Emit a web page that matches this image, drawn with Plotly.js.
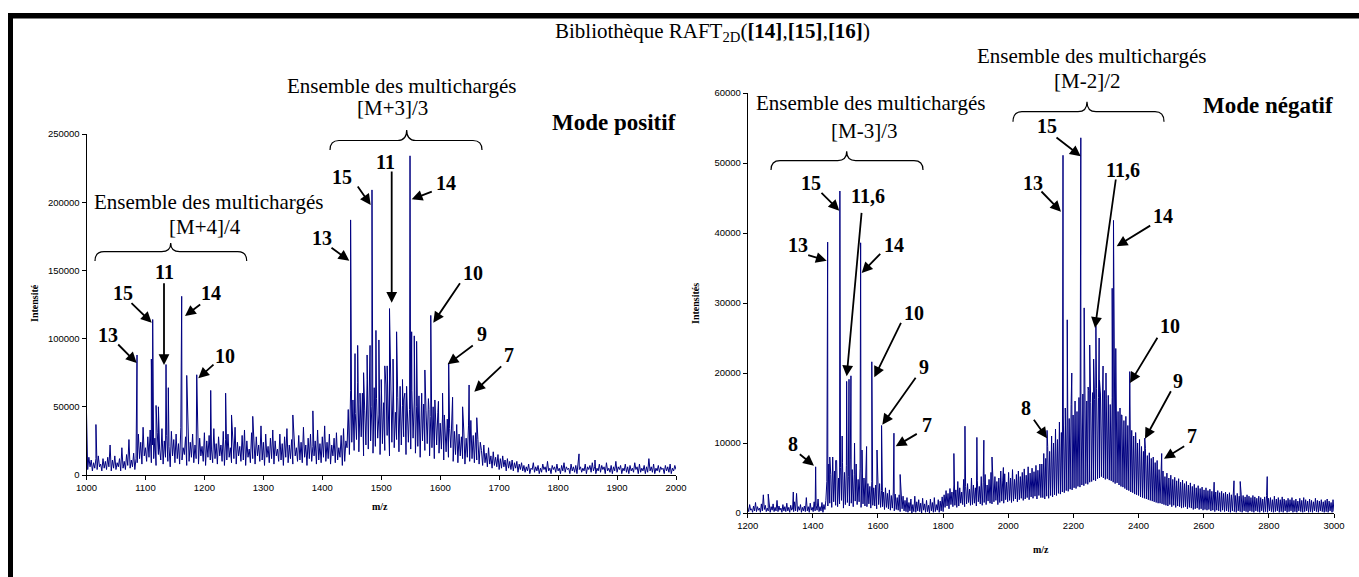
<!DOCTYPE html>
<html><head><meta charset="utf-8">
<script src="https://cdn.plot.ly/plotly-3.0.1.min.js"></script>
<style>html,body{margin:0;padding:0;background:#fff;}#chart{width:1359px;height:577px;}</style>
</head><body><div id="chart"></div>
<script>
const W = 1359, H = 577;
const SERIF = "Liberation Serif, Times New Roman, serif";
const SANS = "Liberation Sans, Arial, sans-serif";

// ---------- Mode positif (m/z 1000-2000) ----------
const posBgStart = 1000, posBgStep = 2;          // m/z sampling of the background trace
const posBgK = [                                  // intensity, thousands
  10,4,13,6,11,3,9,5,12,4, 14,6,8,3,12,5,10,4,13,6, 22,3,11,5,14,4,9,6,12,3, 20,5,10,4,15,7,26,5,11,6, 16,4,12,
  9,30,12,24,8,35,14,20,10,28, 13,33,9,22,12,27,7,31,15,19, 11,34,8,25,13,29,10,21,6,32, 14,26,9,30,12,23,8,35,11,20,
  15,28,7,33,10,24,13,30,9,22, 12,36,8,27,14,21,10,31,7,25, 13,29,11,19,9,34,12,23,8,28, 14,22,10,32,7,26,11,30,13,20,
  9,27,12,35,8,24,14,21,10,29, 11,33,7,25,13,19,9,31,12,23, 8,28,14,22,10,36,11,24,7,30, 13,21,9,27,12,33,8,25,14,19,
  10,30,11,23,7,28,13,34,9,22, 12,26,8,31,14,20,10,29,11,24, 9,35,13,22,7,27,12,30,10,21, 14,25,8,33,11,23,9,28,13,36,
  10,24,12,30,8,22,14,27,9,31, 11,20,13,29,7,34,10,25,
  20,48,15,62,24,55,18,45,26,68, 17,52,28,60,14,47,22,70,19,58, 25,50,16,64,21,56,27,44,15,61, 23,53,18,66,29,49,14,59,24,63,
  20,46,26,57,17,65,22,51,28,60, 15,54,24,48,19,62,27,55,16,50, 21,58,13,45,25,52,18,47,23,56, 14,43,20,50,12,40,22,46,16,38,
  19,44,11,36,17,41,13,34,20,39, 10,32,15,37,9,30,14,28,12,33, 8,27,13,36,10,40,12,29,9,31, 11,26,8,24,
  18,7,22,9,16,6,20,8,14,5, 17,7,13,6,15,4,12,5,14,6, 11,3,12,5,10,4,11,3,9,5, 10,2,8,4,9,3,
  7,2,6,3,8,1,5,4,9,2, 6,3,7,1,5,2,8,4,6,2, 10,3,5,1,7,4,6,2,8,3, 5,1,7,3,9,2,6,4,5,1, 8,3,6,2,7,1,11,4,6,2,
  5,3,8,1,6,4,7,2,9,3, 6,1,5,3,8,2,7,4,6,1, 9,3,5,2,7,1,6,3,10,2, 6,4,7,1,5,3,8,2,6,1, 7,3,5,2,9,4,6,1,8,2,
  5,3,7,1,6,2,12,3,6,2, 8,1,5,3,7,2,6,4,5,1, 7,3,6,2,8,1,5,3,7,4
];
const posPeakMz = [1000,1016,1085.7,1110,1112.3,1118,1122,1134.9,1138.8,1161.5,
  1170,1187,1210.7,1236,1246,1282,1350,1384,1448,1455.5,
  1460,1470,1481,1484.3,1491,1496,1506,1510,1514,1520,
  1526,1536,1548.8,1551.6,1556,1560,1574,1584,1591,1604,
  1614.4,1621,1638,1649,1662,1835.5,1862.6,
  1464,1476,1500,1538,1543,1568.6,1581,1597,1607];
const posPeakK = [46,37,88,85,114,51,50,81,64,131,
  73,73.5,62,60,44,43,44,47,187,89,
  95,75,95,209,106,99,80,80,122,85,
  105,70,234,105,102,98,77,117,55,60,
  82,57,50,66,42,15.5,11,
  60,88,70,55,65,60,48,54,44];
const posXTicks = [1000,1100,1200,1300,1400,1500,1600,1700,1800,1900,2000];
const posYTicks = [0,50000,100000,150000,200000,250000];

// ---------- Mode négatif (m/z 1200-3000) ----------
const negBgStart = 1200, negBgStep = 3;
const negBgH = [                                  // intensity, hundreds
  8,2,12,4,6,1,10,3,15,2, 9,4,7,1,13,3,26,5,11,2, 7,3,14,1,9,4,13,2,8,3, 18,2,10,4,7,1,12,3,9,2,
  14,3,8,1,11,4,7,2,16,3, 28,2,9,4,12,1,8,3,10,2, 22,3,9,1,14,4,8,2,16,3, 11,4,20,2,9,3,15,1,12,5, 18,
  45,10,70,14,55,8,80,16,60,11, 75,9,50,13,65,18,72,7,58,12, 68,15,52,10,77,14,62,9,55,17, 70,12,48,16,64,8,57,13,50,10,
  48,9,42,13,38,7,45,11,36,10, 40,6,35,12,42,8,32,9,30,5, 36,8,28,6,33,4,25,7,30,3, 27,5,22,4,26,2,20,6,24,3,
  18,2,22,1,15,3,20,0,12,2, 24,1,16,3,19,2,14,0,21,4, 13,1,18,2,11,0,20,3,15,1, 22,2,12,4,19,1,17,3,23,2,
  26,8,32,10,28,6,35,12,30,9, 40,11,33,8,45,10,36,14,30,12, 48,9,38,13,42,15,34,11,50,12, 40,14,36,10,46,16,38,13,52,11,
  44,15,55,12,40,17,48,14,58,13, 42,16,52,18,45,12,50,15,60,17, 47,14,56,19,44,16,58,18,50,15, 62,17,48,20,55,16,60,19,52,21,
  58,18,63,20,54,22,66,19,57,23, 64,21,59,24,68,20,61,25,70,22,
  70,22,85,20,78,24,95,21,88,25, 110,23,100,26,120,25,105,28,130,27, 115,30,140,29,125,32,150,31,135,34, 155,33,140,36,160,35,145,38,165,37,
  150,40,170,39,155,42,160,41,175,44, 158,45,172,47,162,46,178,49,165,50, 170,52,160,50,175,48,163,49,168,47, 155,46,165,44,150,42,158,43,145,40,
  150,38,140,37,132,35,138,33,125,32, 128,30,118,29,110,27,115,26,100,25, 105,23,95,22,88,21,92,20,82,19, 86,18,78,17,80,16,72,15,75,14,
  62,14,55,13,60,12,52,11,57,10, 50,12,54,9,48,11,51,8,46,10, 49,9,44,7,47,8,42,9,45,6, 40,8,43,7,38,5,41,6,36,7,
  39,5,35,6,37,4,33,5,36,4, 32,5,34,3,31,4,33,2,30,4, 32,3,29,2,31,4,28,2,30,3, 27,2,29,1,26,3,28,2,25,1,
  28,3,24,2,27,1,25,3,23,2, 26,1,24,3,22,2,25,1,23,3, 21,2,24,1,22,3,20,1,23,2, 25,1,21,3,22,2,19,1,24,2,
  20,3,22,1,19,2,23,1,20,3, 18,1,21,2,19,3,22,1,18,2, 20,1,17,3,21,2,18,1,22,2, 19,3,17,1,20,2,18,1,16,3,
  21,2,18,1,17,3,19,2,16,1, 18,2,20,1,17,3,15,1,19,2
];
const negPeakMz = [1263,1340,1408.6,1445.5,1452,1470,1483,1490,1503.8,1511,
  1517,1528,1546.7,1551,1565,1581,1597,1611,1649,1668,
  1833,1867,1903.6,1925,1950,1985,2119,2168,2175,2181,
  2195,2222.7,2233,2245,2262,2269,2280,2300,2319,2323,
  2330,2373,2392,2419,2471,2632,2693,2712,2795,
  2250,2279,2291,2312,2347,2365];
const negPeakH = [27,30,66,387,80,75,460,110,188,191,
  196,100,386,90,95,216,90,125,114,55,
  85,124,108,104,80,65,118,511,150,276,
  200,536,293,180,220,267,190,200,321,418,
  235,202,100,107,85,44,46,45,52,
  240,250,210,130,140,120];
const negXTicks = [1200,1400,1600,1800,2000,2200,2400,2600,2800,3000];
const negYTicks = [0,10000,20000,30000,40000,50000,60000];

// ---------- build ----------
function spectrum(start, step, bg, bgUnit, pkX, pkY, pkUnit) {
  const pts = bg.map((v, i) => [start + step * i, v * bgUnit]);
  pkX.forEach((m, i) => pts.push([m, pkY[i] * pkUnit]));
  pts.sort((a, b) => a[0] - b[0]);
  return { x: pts.map(p => p[0]), y: pts.map(p => p[1]) };
}
const pos = spectrum(posBgStart, posBgStep, posBgK, 1000, posPeakMz, posPeakK, 1000);
const neg = spectrum(negBgStart, negBgStep, negBgH, 100, negPeakMz, negPeakH, 100);

const NAVY = '#000080';
const traces = [
  { x: pos.x, y: pos.y, xaxis: 'x', yaxis: 'y', mode: 'lines', line: { color: NAVY, width: 1 }, hoverinfo: 'skip' },
  { x: neg.x, y: neg.y, xaxis: 'x2', yaxis: 'y2', mode: 'lines', line: { color: NAVY, width: 1 }, hoverinfo: 'skip' }
];

const PX = x => x / W, PY = y => 1 - y / H;
const ann = [];
function txt(text, x, y, size, extra) {
  ann.push(Object.assign({ xref: 'paper', yref: 'paper', x: PX(x), y: PY(y), xanchor: 'center', yanchor: 'middle',
    text: text, showarrow: false, font: { family: SERIF, size: size, color: 'black' } }, extra || {}));
}
function arrow(sx, sy, tx, ty) {
  ann.push({ xref: 'paper', yref: 'paper', x: PX(tx), y: PY(ty), ax: sx - tx, ay: sy - ty,
    text: '', showarrow: true, arrowhead: 2, arrowsize: 1.2, arrowwidth: 1.8, arrowcolor: 'black', standoff: 0, startstandoff: 0 });
}
function num(t, x, y) { txt('<b>' + t + '</b>', x, y, 20); }

// Title
txt('Bibliothèque RAFT<sub>2D</sub>(<b>[14]</b>,<b>[15]</b>,<b>[16]</b>)', 712, 32, 21);
// Headers
txt('Ensemble des multichargés', 208, 202, 21);
txt('[M+4]/4', 205, 227, 21);
txt('Ensemble des multichargés', 401, 86, 21);
txt('[M+3]/3', 393, 108, 21);
txt('Ensemble des multichargés', 870, 103, 21);
txt('[M-3]/3', 865, 131, 21);
txt('Ensemble des multichargés', 1091, 56, 21);
txt('[M-2]/2', 1087, 81, 21);
txt('<b>Mode positif</b>', 614, 122, 23);
txt('<b>Mode négatif</b>', 1268, 105, 23);
// axis titles
txt('<b>Intensité</b>', 34, 303, 10, { textangle: -90 });
txt('<b>Intensités</b>', 695, 304, 10, { textangle: -90 });
txt('<b>m/z</b>', 380, 506, 10);
txt('<b>m/z</b>', 1041, 549, 10);

// positive labels + arrows
num('13', 108, 335); arrow(116.7, 343, 136.7, 363);
num('15', 122.7, 293); arrow(130, 301.7, 151.7, 322.7);
num('11', 164, 271.7); arrow(164, 281.7, 164, 365);
num('14', 211, 292.7); arrow(201.7, 303.3, 185, 316);
num('10', 225, 356); arrow(215, 363.3, 198.3, 378.3);
num('13', 321.7, 238.3); arrow(330, 246.7, 349.3, 260.7);
num('15', 342, 176.7); arrow(356.7, 185, 370.7, 205);
num('11', 385, 161.7); arrow(391.7, 170, 391.7, 302.7);
num('14', 445.7, 183.3); arrow(433.3, 191, 411.7, 199.3);
num('10', 473.3, 273.3); arrow(461, 281.7, 433.3, 322.7);
num('9', 481.7, 334); arrow(474.3, 344.3, 447.7, 364.3);
num('7', 509.3, 355); arrow(502.7, 365, 474.3, 391.7);
// negative labels + arrows
num('15', 810.7, 183); arrow(820, 191.3, 839.3, 210.7);
num('11,6', 868.3, 196.3); arrow(861.7, 211.3, 846.7, 376.3);
num('13', 798.3, 244.7); arrow(806.7, 254.7, 826.7, 260.7);
num('14', 894, 244.7); arrow(881.7, 252.3, 861.7, 273);
num('10', 914.3, 313); arrow(901.7, 321.3, 874.3, 377.3);
num('9', 924, 367.3); arrow(916.7, 376.3, 882.3, 424.7);
num('7', 926.7, 424.7); arrow(918.3, 433, 895.7, 446.3);
num('8', 792.7, 444); arrow(798.3, 453, 814, 465.7);
num('15', 1046.7, 126.3); arrow(1055, 136.3, 1080.7, 156.3);
num('13', 1032.8, 183.3); arrow(1040, 190, 1061, 211.7);
num('11,6', 1123.3, 169.7); arrow(1116, 178, 1095, 328);
num('14', 1162.7, 216.3); arrow(1151.7, 224.7, 1116.7, 246.3);
num('10', 1170, 326.3); arrow(1158.3, 336.3, 1130, 383);
num('9', 1178.3, 381.3); arrow(1171.7, 389.7, 1145, 438.7);
num('7', 1191.7, 436.3); arrow(1185.7, 445.3, 1164, 458.7);
num('8', 1026.3, 408.3); arrow(1032.8, 418.3, 1047, 438.3);

// braces
function brace(x0, x1, xm, yEnd, yFlat, yTip) {
  const r = 9;
  const p = (x, y) => PX(x).toFixed(5) + ',' + PY(y).toFixed(5);
  const d = 'M' + p(x0, yEnd) + ' Q' + p(x0, yFlat) + ' ' + p(x0 + r, yFlat) +
    ' L' + p(xm - r, yFlat) + ' Q' + p(xm, yFlat) + ' ' + p(xm, yTip) +
    ' Q' + p(xm, yFlat) + ' ' + p(xm + r, yFlat) +
    ' L' + p(x1 - r, yFlat) + ' Q' + p(x1, yFlat) + ' ' + p(x1, yEnd);
  return { type: 'path', xref: 'paper', yref: 'paper', path: d, line: { color: 'black', width: 1.2 } };
}
const shapes = [
  brace(95, 246.7, 170.7, 261, 251.7, 243),
  brace(330, 482, 406.7, 150, 140.5, 130),
  brace(771, 923, 846.7, 170, 160.7, 151.3),
  brace(1013, 1164, 1087, 121.7, 111.7, 101.7),
  { type: 'rect', xref: 'paper', yref: 'paper', x0: PX(8), x1: PX(1359), y0: PY(18.5), y1: PY(13), fillcolor: 'black', line: { width: 0 } },
  { type: 'rect', xref: 'paper', yref: 'paper', x0: PX(8), x1: PX(13), y0: PY(577), y1: PY(13), fillcolor: 'black', line: { width: 0 } }
];

const axBase = { ticks: 'outside', ticklen: 4, tickwidth: 1, tickcolor: 'black', showline: true, linecolor: 'black', linewidth: 1,
  showgrid: false, zeroline: false, tickfont: { family: SANS, size: 9.5, color: 'black' }, fixedrange: true };
const layout = {
  width: W, height: H, autosize: false, margin: { l: 0, r: 0, t: 0, b: 0 },
  paper_bgcolor: 'white', plot_bgcolor: 'rgba(0,0,0,0)', showlegend: false,
  xaxis: Object.assign({}, axBase, { domain: [86.5 / W, 676 / W], range: [1000, 2000], tickvals: posXTicks, anchor: 'y' }),
  yaxis: Object.assign({}, axBase, { domain: [1 - 475 / H, 1 - 134 / H], range: [0, 250000], tickvals: posYTicks, tickformat: 'd', anchor: 'x' }),
  xaxis2: Object.assign({}, axBase, { domain: [747.7 / W, 1334 / W], range: [1200, 3000], tickvals: negXTicks, anchor: 'y2' }),
  yaxis2: Object.assign({}, axBase, { domain: [1 - 513 / H, 1 - 93 / H], range: [0, 60000], tickvals: negYTicks, tickformat: 'd', anchor: 'x2' }),
  annotations: ann, shapes: shapes
};
Plotly.newPlot('chart', traces, layout, { displayModeBar: false, staticPlot: true });
</script></body></html>
